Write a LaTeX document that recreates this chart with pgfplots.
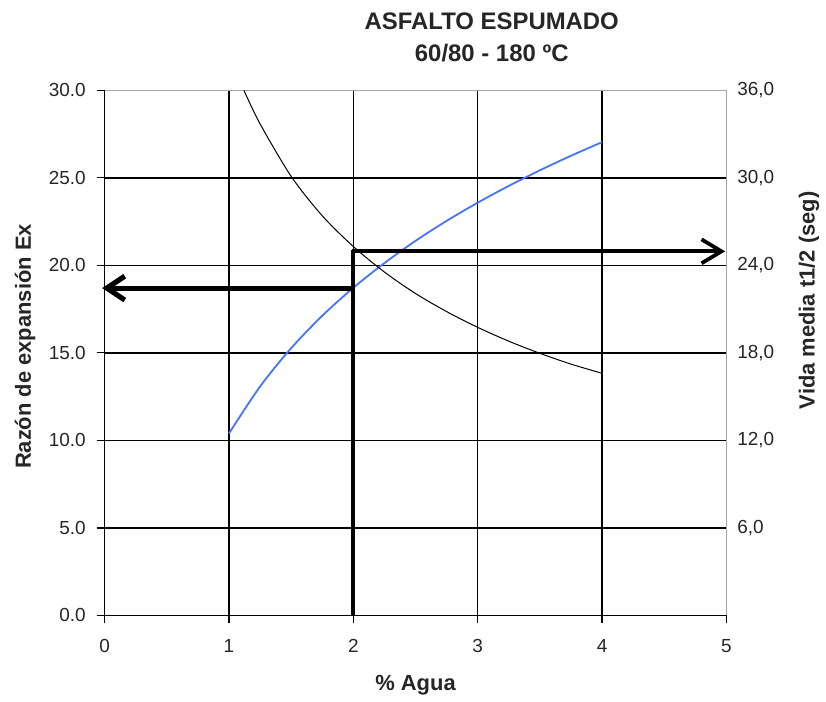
\documentclass[border=0pt]{standalone}
\usepackage{pgfplots}
\pgfplotsset{compat=1.18}
\usetikzlibrary{arrows.meta}
\usepackage{fontspec}
\setmainfont{Liberation Sans}
\definecolor{exblue}{RGB}{70,115,255}
\begin{document}
\begin{tikzpicture}
\begin{axis}[
  scale only axis, width=312pt, height=263.5pt,
  xmin=0, xmax=5, ymin=0, ymax=30,
  clip=false,
  /pgf/number format/assume math mode=true,
  xtick={0,1,2,3,4}, extra x ticks={5}, extra x tick style={grid=none},
  ytick={0,5,10,15,20,25}, extra y ticks={30}, extra y tick style={grid=none},
  grid=major, grid style={black, line width=0.75pt},
  axis line style={draw=gray!70, line width=0.6pt},
  tick align=outside, xtick pos=lower, ytick pos=left,
  major tick length=4pt, tick style={black, line width=0.6pt},
  tick label style={font=\fontsize{9.5}{11}\selectfont, text=black!85},
  yticklabel style={/pgf/number format/.cd, fixed, fixed zerofill, precision=1, /tikz/.cd, xshift=-2pt},
  xticklabel style={yshift=-4.5pt},
]
\path (rel axis cs:-0.1683,-0.16) rectangle (rel axis cs:1.1554,1.172);
\draw[black, line width=0.75pt] (rel axis cs:0,1) -- (rel axis cs:0,0) -- (rel axis cs:1,0);
\addplot[exblue, line width=0.9pt, smooth] coordinates {
 (1,10.4) (1.25,13.08) (1.5,15.27) (1.75,17.12) (2,18.72) (2.25,20.13) (2.5,21.40)
 (2.75,22.54) (3,23.58) (3.25,24.54) (3.5,25.43) (3.75,26.26) (4,27.04)};
\addplot[black, line width=2pt] coordinates {(2,0) (2,20.85)};
\addplot[black, line width=2.6pt, -{Straight Barb[length=9pt,width=12pt]}] coordinates {(2,18.7) (-0.02,18.7)};
\addplot[black, line width=1.9pt, -{Straight Barb[length=10pt,width=12pt]}] coordinates {(1.99,20.8) (4.99,20.8)};
\node[font=\bfseries\fontsize{12}{14}\selectfont, anchor=base, text=black!85] at (rel axis cs:0.6226,1.115) {ASFALTO ESPUMADO};
\node[font=\bfseries\fontsize{12}{14}\selectfont, anchor=base, text=black!85] at (rel axis cs:0.6226,1.054) {60/80 - 180 ºC};
\node[font=\bfseries\fontsize{11}{13}\selectfont, anchor=base, text=black!85] at (rel axis cs:0.5,-0.143) {\% Agua};
\node[font=\bfseries\fontsize{11}{13}\selectfont, rotate=90, text=black!85] at (rel axis cs:-0.128,0.512) {Razón de expansión Ex};
\node[font=\bfseries\fontsize{11}{13}\selectfont, rotate=90, text=black!85] at (rel axis cs:1.133,0.6) {Vida media t1/2 (seg)};
\end{axis}
\begin{axis}[
  scale only axis, width=312pt, height=263.5pt,
  xmin=0, xmax=5, ymin=0, ymax=36,
  axis x line=none, axis y line*=right,
  axis line style={draw=gray!70, line width=0.6pt},
  /pgf/number format/assume math mode=true,
  ytick={6,12,18,24,30,36},
  major tick length=0pt,
  tick label style={font=\fontsize{9.5}{11}\selectfont, text=black!85},
  yticklabel style={/pgf/number format/.cd, fixed, fixed zerofill, precision=1, use comma, /tikz/.cd, xshift=2pt},
]
\addplot[black, line width=0.5pt, smooth] coordinates {
 (1.12,36.0) (1.25,33.7) (1.5,30.1) (1.75,27.4) (2,25.29) (2.25,23.54) (2.5,22.07)
 (2.75,20.83) (3,19.75) (3.25,18.8) (3.5,17.97) (3.75,17.23) (4,16.6)};
\end{axis}
\end{tikzpicture}
\end{document}
